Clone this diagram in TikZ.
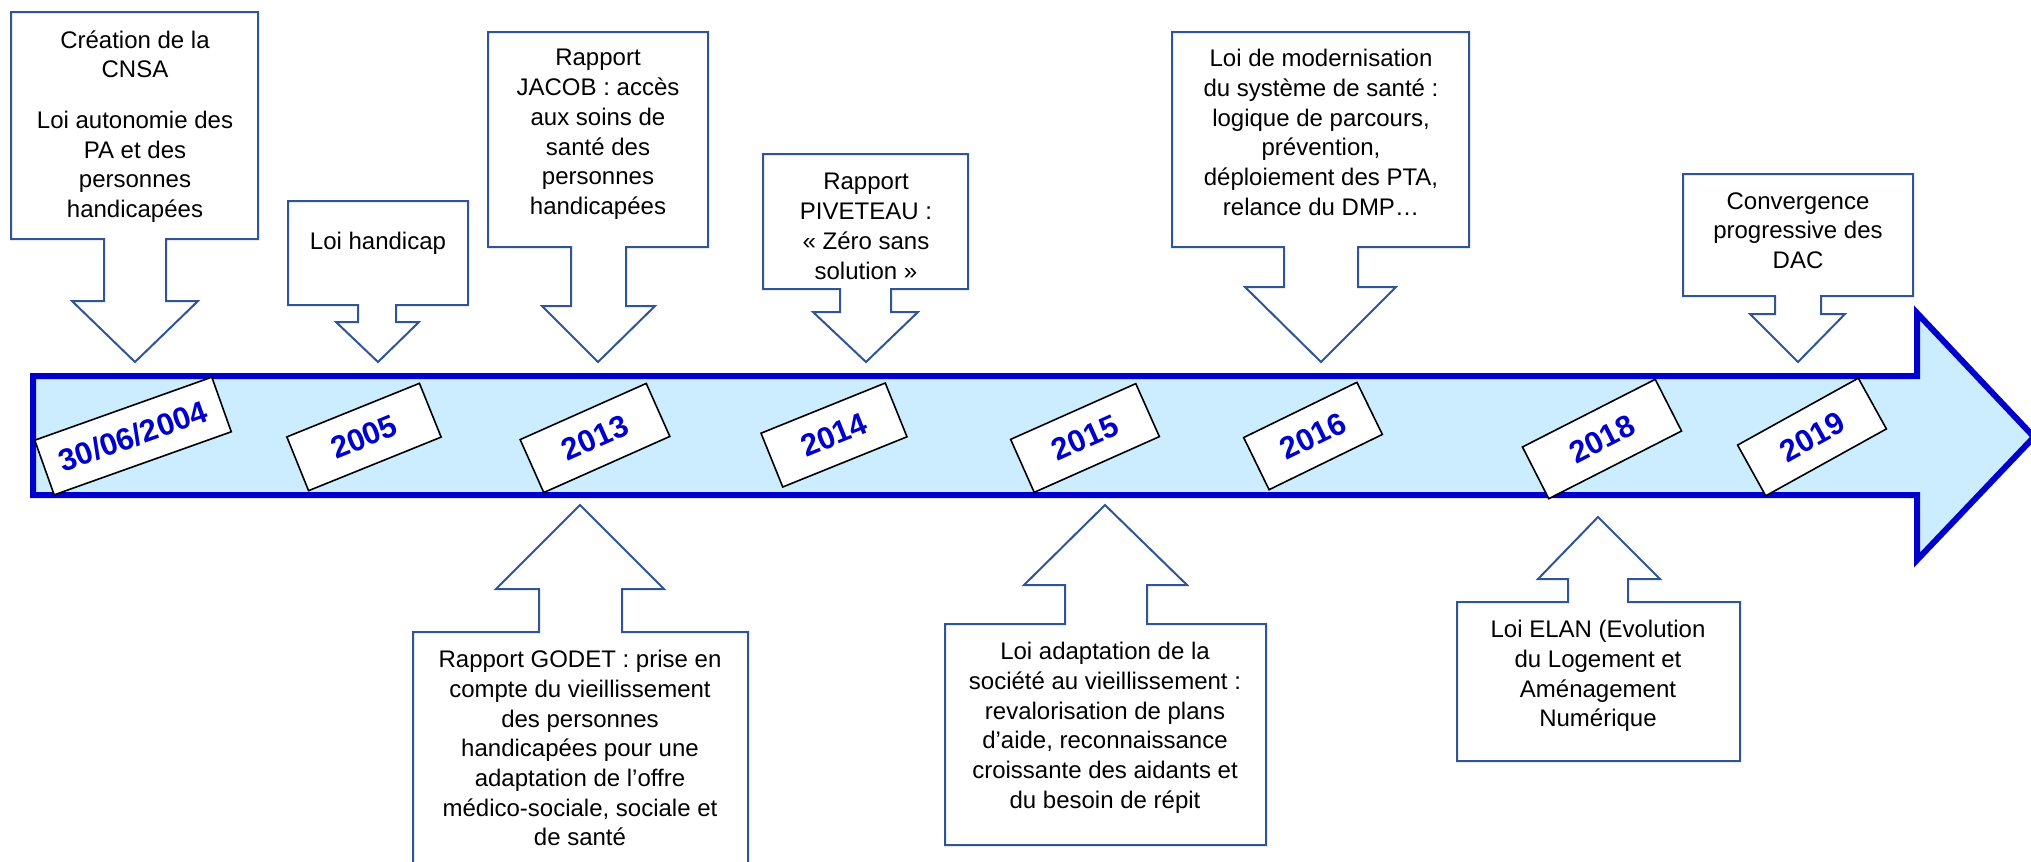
\documentclass[tikz,border=0pt]{standalone}
\usepackage{fontspec}
\setmainfont{Liberation Sans}
\definecolor{calloutblue}{RGB}{47,85,151}
\definecolor{bandblue}{RGB}{0,0,204}
\definecolor{bandfill}{RGB}{204,236,255}

\begin{document}
\begin{tikzpicture}[x=0.5pt,y=-0.5pt,
    callout/.style={draw=calloutblue,line width=1pt,fill=white},
    boxtext/.style={anchor=north,align=center,inner sep=0pt,
        font=\fontsize{12}{14.85}\selectfont,execute at begin node={\rule{0pt}{10.5pt}}},
    datetag/.style={draw=black,line width=0.8pt,fill=white,minimum height=29pt,
        inner sep=0pt,text=bandblue,font=\fontsize{15.5}{18}\selectfont\bfseries}]
        \useasboundingbox (0,0) rectangle (2031,862);
        % timeline band
        \draw[bandblue,line width=3pt,fill=bandfill,line join=miter] (33,376) -- (1917,376) -- (1917,313) -- (2034,437) -- (1917,560) -- (1917,495) -- (33,495) -- cycle;
        % callouts above
        \draw[callout] (11,12) -- (258,12) -- (258,239) -- (166,239) -- (166,301) -- (198,301) -- (135,362) -- (72,301) -- (104,301) -- (104,239) -- (11,239) -- cycle;
        \node[boxtext] (cnsa) at (135,30) {Création de la\\CNSA\\[10.5pt]Loi autonomie des\\PA et des\\personnes\\handicapées};
        \draw[callout] (288,201) -- (468,201) -- (468,305) -- (396,305) -- (396,322) -- (419,322) -- (378,362) -- (336,322) -- (358,322) -- (358,305) -- (288,305) -- cycle;
        \node[boxtext] (handicap) at (378,228) {Loi handicap};
        \draw[callout] (488,32) -- (708,32) -- (708,247) -- (626,247) -- (626,306) -- (655,306) -- (598,362) -- (542,306) -- (571,306) -- (571,247) -- (488,247) -- cycle;
        \node[boxtext] (jacob) at (598,49) {Rapport\\JACOB : accès\\aux soins de\\santé des\\personnes\\handicapées};
        \draw[callout] (763,154) -- (968,154) -- (968,289) -- (891,289) -- (891,312) -- (918,312) -- (866,362) -- (813,312) -- (840,312) -- (840,289) -- (763,289) -- cycle;
        \node[boxtext] (piveteau) at (866,173) {Rapport\\PIVETEAU :\\«~Zéro sans\\solution~»};
        \draw[callout] (1172,32) -- (1469,32) -- (1469,247) -- (1358,247) -- (1358,287) -- (1396,287) -- (1321,362) -- (1245,287) -- (1284,287) -- (1284,247) -- (1172,247) -- cycle;
        \node[boxtext] (modern) at (1321,49) {Loi de modernisation\\du système de santé :\\logique de parcours,\\prévention,\\déploiement des PTA,\\relance du DMP…};
        \draw[callout] (1683,174) -- (1913,174) -- (1913,296) -- (1821,296) -- (1821,314) -- (1845,314) -- (1798,362) -- (1750,314) -- (1775,314) -- (1775,296) -- (1683,296) -- cycle;
        \node[boxtext] (dac) at (1798,192) {Convergence\\progressive des\\DAC};
        % callouts below
        \draw[callout] (413,870) -- (413,632) -- (539,632) -- (539,589) -- (496,589) -- (580,505) -- (664,589) -- (622,589) -- (622,632) -- (748,632) -- (748,870);
        \node[boxtext] (godet) at (580,650) {Rapport GODET : prise en\\compte du vieillissement\\des personnes\\handicapées pour une\\adaptation de l’offre\\médico-sociale, sociale et\\de santé};
        \draw[callout] (945,845) -- (945,624) -- (1065,624) -- (1065,585) -- (1024,585) -- (1105,505) -- (1187,585) -- (1147,585) -- (1147,624) -- (1266,624) -- (1266,845) -- cycle;
        \node[boxtext] (adapt) at (1105,642) {Loi adaptation de la\\société au vieillissement :\\revalorisation de plans\\d’aide, reconnaissance\\croissante des aidants et\\du besoin de répit};
        \draw[callout] (1457,761) -- (1457,602) -- (1568,602) -- (1568,579) -- (1538,579) -- (1598,517) -- (1660,579) -- (1628,579) -- (1628,602) -- (1740,602) -- (1740,761) -- cycle;
        \node[boxtext] (elan) at (1598,620) {Loi ELAN (Evolution\\du Logement et\\Aménagement\\Numérique};
        % dates
        \node[datetag,minimum width=94pt,rotate=19.6] (d2004) at (133,436) {30/06/2004};
        \node[datetag,minimum width=71.5pt,rotate=22] (d2005) at (364,437) {2005};
        \node[datetag,minimum width=69pt,rotate=24] (d2013) at (595,438) {2013};
        \node[datetag,minimum width=67pt,rotate=22] (d2014) at (834,435) {2014};
        \node[datetag,minimum width=68.5pt,rotate=24] (d2015) at (1085,438) {2015};
        \node[datetag,minimum width=63pt,rotate=26] (d2016) at (1313,436) {2016};
        \node[datetag,minimum width=74.5pt,rotate=27] (d2018) at (1602,439) {2018};
        \node[datetag,minimum width=69pt,rotate=29] (d2019) at (1812,437) {2019};
    \end{tikzpicture}
\end{document}
